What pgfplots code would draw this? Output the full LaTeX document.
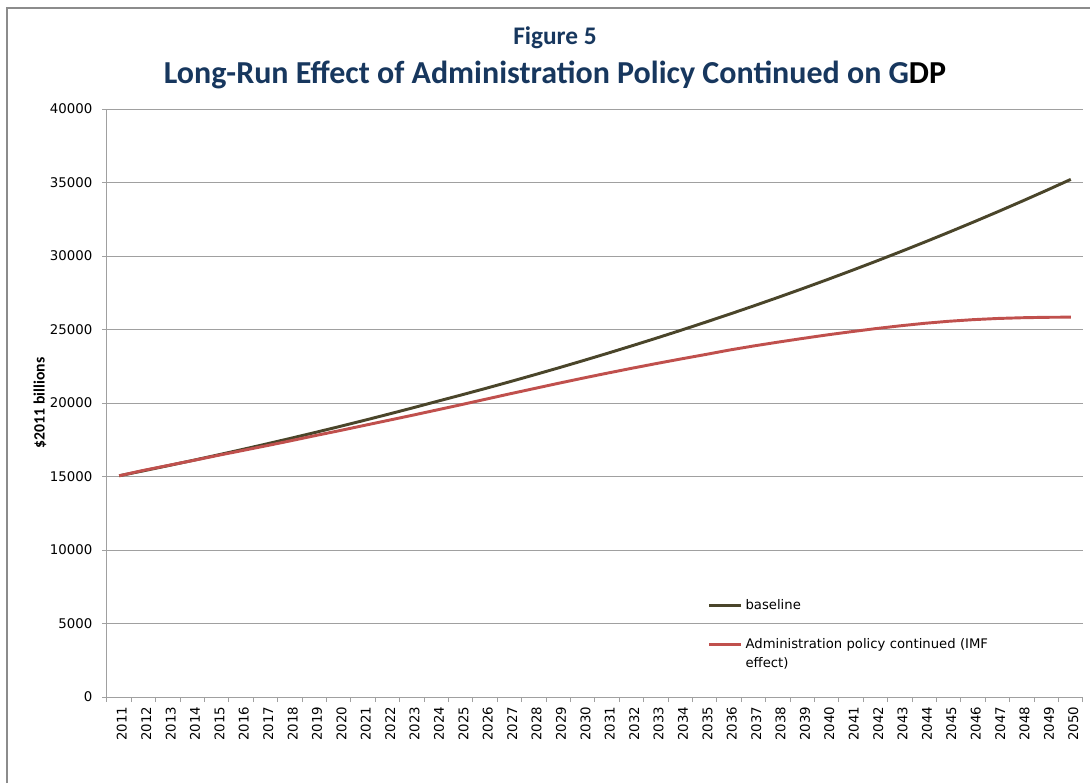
\documentclass[border=0pt]{standalone}
\usepackage{fontspec}
\setmainfont{DejaVu Sans}
\newfontfamily\carlito{Carlito}
\usepackage{pgfplots}
\usepackage{pgfplotstable}
\pgfplotsset{compat=1.18}

\definecolor{titleblue}{RGB}{23,55,94}
\definecolor{basecol}{RGB}{74,69,42}
\definecolor{policyred}{RGB}{192,80,77}
\definecolor{gridgray}{RGB}{160,160,160}
\definecolor{framegray}{RGB}{140,140,140}

% GDP, $2011 billions
\pgfplotstableread{
year base
2011 15050
2012 15389
2013 15735
2014 16089
2015 16451
2016 16821
2017 17200
2018 17587
2019 17983
2020 18387
2021 18801
2022 19224
2023 19656
2024 20099
2025 20537
2026 20985
2027 21442
2028 21910
2029 22387
2030 22875
2031 23374
2032 23884
2033 24404
2034 24936
2035 25480
2036 26035
2037 26603
2038 27183
2039 27776
2040 28381
2041 29000
2042 29632
2043 30278
2044 30938
2045 31613
2046 32302
2047 33006
2048 33726
2049 34461
2050 35212
}\baselinedata

\pgfplotstableread{
year policy
2011 15050
2012 15420
2013 15750
2014 16080
2015 16420
2016 16750
2017 17080
2018 17420
2019 17770
2020 18110
2021 18460
2022 18810
2023 19160
2024 19520
2025 19880
2026 20250
2027 20620
2028 20980
2029 21340
2030 21690
2031 22030
2032 22360
2033 22680
2034 22990
2035 23290
2036 23600
2037 23880
2038 24140
2039 24390
2040 24630
2041 24850
2042 25060
2043 25250
2044 25420
2045 25560
2046 25670
2047 25750
2048 25800
2049 25830
2050 25840
}\policydata

\begin{document}
\begin{tikzpicture}
\useasboundingbox (-80.25pt,-64.5pt) rectangle (737.25pt,522.75pt);
\begin{axis}[
  at={(0pt,0pt)}, anchor=south west,
  width=732pt, height=441pt, scale only axis,
  xmin=2010.5, xmax=2050.5,
  ymin=0, ymax=40000,
  xtick={2011,2012,...,2050},
  minor xtick={2010.5,2011.5,...,2050.5},
  ytick={0,5000,...,40000},
  scaled y ticks=false,
  /pgf/number format/1000 sep={},
  /pgf/number format/assume math mode=true,
  axis x line*=bottom, axis y line*=left,
  axis line style={gridgray, line width=0.75pt},
  tick align=outside,
  major tick length=3.75pt, minor tick length=3.75pt,
  tick style={gridgray, line width=0.75pt},
  major x tick style={draw=none},
  ymajorgrids,
  major grid style={gridgray, line width=0.75pt},
  tick label style={font=\fontsize{10}{12}\selectfont, black},
  xticklabel style={rotate=90, anchor=east, yshift=-2pt},
  yticklabel style={xshift=-3.75pt},
  ylabel={\carlito\bfseries\fontsize{11.8}{14}\selectfont \$2011 billions},
  ylabel style={at={(axis description cs:-0.0686,0.5)}, anchor=center},
  legend cell align=left,
  legend style={draw=none, fill=none, at={(rel axis cs:0.6114,0.176)}, anchor=north west,
    font=\fontsize{9.9}{14}\selectfont, row sep=16.5pt,
    nodes={text width=190pt, align=left},
    cells={anchor=base west}},
  legend image code/.code={\draw[#1, line width=2.2pt] (0pt,3pt) -- (24pt,3pt);},
]
\addplot[basecol, line width=2.2pt] table[x=year, y=base] {\baselinedata};
\addlegendentry{baseline}
\addplot[policyred, line width=2.2pt] table[x=year, y=policy] {\policydata};
\addlegendentry{Administration policy continued (IMF effect)}
\end{axis}
\draw[framegray, line width=1.5pt] (-75pt,-64.5pt) -- (-75pt,516.75pt) -- (737.25pt,516.75pt);
\node[anchor=base, font=\carlito\bfseries\fontsize{19}{22}\selectfont, text=titleblue] at (336pt,489pt) {Figure 5};
\node[anchor=base, font=\carlito\bfseries\fontsize{24}{28}\selectfont, text=titleblue] at (336pt,460pt) {Long-Run Effect of Administration Policy Continued on G\textcolor{black}{DP}};
\end{tikzpicture}
\end{document}
